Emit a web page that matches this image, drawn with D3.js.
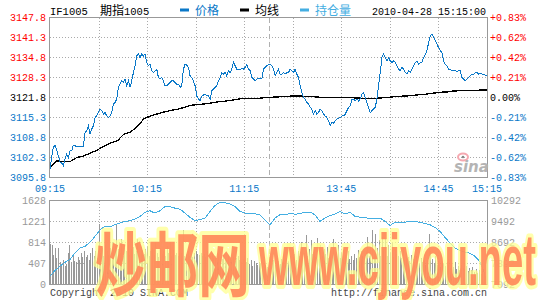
<!DOCTYPE html>
<html>
<head>
<meta charset="utf-8">
<script src="https://cdn.jsdelivr.net/npm/d3@7"></script>
<style>
  body { margin: 0; background: #fff; }
  svg { display: block; }
  text { font-family: "Liberation Mono", "DejaVu Sans Mono", monospace; font-size: 10px; }
</style>
</head>
<body>
<svg id="chart" width="540" height="300"></svg>
<script>
// axis values
var priceTicks = [3147.8, 3141.3, 3134.8, 3128.3, 3121.8, 3115.3, 3108.8, 3102.3, 3095.8];
var pctLabels = ["+0.83%", "+0.62%", "+0.42%", "+0.21%", "0.00%", "-0.21%", "-0.42%", "-0.62%", "-0.83%"];
var timeTicks = [0, 60, 120, 180, 240, 270];   // minutes of trading since 09:15
var timeLabels = ["09:15", "10:15", "11:15", "13:45", "14:45", "15:15"];
var volTicks = [1628, 1221, 814, 407, 0];
var oiTicks = [10292, 9492, 8692, 7892, 7092];
var preClose = 3121.8;

// price, read across the session
var price = [
  3098.5, 3102.3, 3105.6, 3106.3, 3104.8, 3102.8, 3100.9, 3100.5, 3099.6, 3101.8,
  3103.4, 3102.3, 3104.5, 3104.5, 3106.3, 3106.1, 3105.9, 3105.9, 3105.9, 3105.9,
  3105.9, 3110.4, 3111.0, 3112.6, 3109.9, 3111.5, 3112.6, 3115.3, 3115.8, 3116.9,
  3118.0, 3117.5, 3116.4, 3116.9, 3115.8, 3115.3, 3115.8, 3116.9, 3119.6, 3120.2,
  3121.3, 3125.1, 3126.1, 3127.2, 3126.7, 3127.8, 3125.6, 3127.2, 3125.1, 3127.2,
  3129.9, 3132.1, 3135.3, 3135.9, 3134.8, 3135.9, 3135.3, 3135.9, 3133.2, 3132.1,
  3132.6, 3130.5, 3129.9, 3130.5, 3131.0, 3128.3, 3127.8, 3128.3, 3127.2, 3125.6,
  3125.6, 3126.1, 3126.7, 3127.2, 3127.2, 3126.7, 3126.1, 3126.1, 3125.1, 3125.6,
  3131.0, 3132.6, 3132.3, 3131.6, 3128.8, 3128.3, 3127.2, 3125.6, 3122.3, 3121.3,
  3120.7, 3122.3, 3122.6, 3122.9, 3122.3, 3122.3, 3121.3, 3124.0, 3124.5, 3125.1,
  3125.6, 3127.2, 3128.3, 3129.9, 3129.4, 3129.9, 3128.8, 3130.5, 3129.9, 3131.0,
  3133.2, 3132.1, 3131.0, 3131.0, 3131.0, 3131.2, 3131.0, 3131.6, 3132.6, 3131.0,
  3130.5, 3128.3, 3127.8, 3127.2, 3127.8, 3128.0, 3128.0,
  3127.8, 3131.0, 3131.6, 3132.1, 3132.6, 3132.6, 3132.1, 3131.0, 3128.8, 3129.9,
  3131.0, 3129.4, 3129.4, 3129.9, 3129.4, 3129.9, 3129.9, 3131.0, 3130.5, 3129.9,
  3131.0, 3129.4, 3128.3, 3125.6, 3123.4, 3121.8, 3121.3, 3120.2, 3119.6, 3118.6,
  3118.0, 3116.4, 3117.5, 3116.4, 3116.9, 3118.0, 3117.5, 3116.4, 3115.8, 3115.3,
  3114.2, 3112.8, 3113.7, 3113.5, 3114.2, 3114.8, 3115.0, 3115.3, 3115.8, 3115.8,
  3116.4, 3117.5, 3118.6, 3119.1, 3121.3, 3121.3, 3120.7, 3121.3, 3120.7, 3121.3,
  3122.9, 3123.4, 3121.8, 3120.2, 3118.6, 3116.9, 3117.5, 3118.0, 3118.6, 3121.3,
  3125.6, 3129.9, 3134.8, 3135.9, 3134.8, 3133.7, 3134.8, 3133.7, 3133.2, 3133.7,
  3133.2, 3132.1, 3131.0, 3130.5, 3131.6, 3131.0, 3129.9, 3129.4, 3130.5, 3129.9,
  3131.0, 3132.1, 3133.2, 3133.7, 3132.6, 3133.2, 3133.2, 3134.8, 3135.9, 3137.0,
  3139.7, 3141.8, 3142.4, 3141.3, 3140.2, 3139.1, 3138.0, 3137.0, 3136.4, 3133.7,
  3132.6, 3132.1, 3131.0, 3131.0, 3130.5, 3130.5, 3130.5, 3130.1, 3130.5, 3130.5,
  3128.3, 3127.8, 3127.2, 3127.8, 3128.3, 3128.8, 3129.4, 3129.4, 3129.9, 3129.9,
  3129.4, 3129.7, 3129.4, 3129.2, 3129.1, 3128.8
];

// average price line
var avgPrice = [
  3099.1, 3101.2, 3100.9, 3101.0, 3102.3, 3102.8, 3103.7, 3104.7, 3105.9, 3107.0,
  3107.7, 3109.9, 3110.6, 3112.4, 3115.0, 3115.8, 3116.5, 3117.1, 3117.6, 3118.0,
  3118.6, 3119.3, 3119.5, 3119.7, 3120.0, 3120.4, 3120.6, 3120.9, 3121.3, 3121.5,
  3121.5, 3121.5, 3121.8, 3121.9, 3122.0, 3122.1, 3122.3, 3122.3, 3122.2, 3122.1,
  3121.9, 3121.9, 3121.8, 3121.8, 3121.8, 3121.7, 3121.6, 3121.5, 3121.5, 3121.6,
  3121.8, 3122.0, 3122.2, 3122.3, 3122.5, 3122.7, 3122.9, 3123.2, 3123.5, 3123.6,
  3123.9, 3124.0, 3124.1, 3124.1, 3124.2, 3124.2
];

// volume per minute
var volume = [
  790, 760, 570, 700, 510, 700, 430, 380, 480, 350,
  400, 610, 760, 430, 570, 460, 430, 540, 480, 610,
  540, 640, 540, 580, 480, 620, 700, 560, 650, 520,
  1180, 620, 700, 560, 760, 640, 580, 700, 820, 660,
  740, 1170, 680, 620, 880, 560, 700, 640, 760, 580,
  680, 720, 600, 640, 880, 560, 720, 660, 600, 680,
  720, 560, 640, 700, 580, 800, 620, 540, 700, 600,
  640, 560, 740, 620, 820, 560, 660, 580, 620, 560,
  620, 620, 1050, 560, 600, 640, 560, 600, 540, 620,
  640, 600, 580, 620, 560, 600, 540, 640, 580, 560,
  600, 520, 560, 480, 600, 540, 500, 580, 520, 480,
  560, 500, 480, 540, 460, 520, 560, 480, 440, 500,
  560, 440, 520, 400, 480, 360, 460, 420, 380, 440,
  400, 360, 420, 380, 340, 300,
  560, 420, 480, 380, 520, 460, 400, 500, 440, 380,
  520, 460, 560, 480, 540, 600, 480, 640, 560, 820,
  700, 620, 950, 560, 680, 860, 600, 720, 540, 900,
  620, 760, 560, 680, 600, 720, 520, 640, 580, 880,
  600, 560, 760, 520, 620, 480, 580, 540, 640, 500,
  560, 480, 600, 520, 660, 540, 640, 560, 500, 640,
  920, 560, 720, 1050, 600, 980, 700, 860, 560, 920,
  680, 880, 560, 760, 620, 800, 540, 680, 600, 560,
  640, 520, 700, 480, 600, 540, 460, 580, 500, 440,
  560, 480, 400, 520, 440, 460, 380, 480, 970, 640,
  500, 420, 560, 380, 460, 340, 420, 400, 360, 440,
  380, 320, 400, 340, 440, 300, 360, 280, 380, 320,
  300, 360, 260, 320, 280, 340, 240, 300, 220, 280, 200, 260, 180, 160
];

// open interest
var openInt = [
  7408, 7623, 7787, 7939, 8040, 8293, 8483, 8546, 8698, 8926,
  9179, 9305, 9293, 9369, 9432, 9495, 9520, 9584, 9685, 9837,
  9900, 9811, 9900, 10064, 10052, 10001, 9963, 9811, 9647, 9533,
  9558, 9622, 9875, 10102, 10229, 10203, 10165, 10064, 9875, 9811,
  9811, 9786, 9748, 9558, 9369,
  9622, 9748, 9748, 9799, 9773, 9786, 9849, 9849, 9748, 9495,
  9622, 9723, 9773, 9875, 9773, 9849, 9685, 9659, 9634, 9609,
  9609, 9622, 9495, 9343, 9457, 9470, 9470, 9495, 9495, 9457,
  9419, 9369, 9267, 9116, 8888, 8673, 8483, 8382, 8331, 8281,
  8167, 7952, 7471
];

var blue = "#0a78c8", lightBlue = "#44aee2", red = "#ff0000", grey = "#999";
var left = 50, right = 487;
var pTop = 17.5, pBottom = 177.5, vTop = 200.5, vBottom = 284.5;

var svg = d3.select("#chart");

// scales
var x = d3.scaleLinear().domain([0, 270]).range([left, right]);
var xPrice = d3.scaleLinear().domain([0, price.length - 1]).range([left, right]);
var xAvg = d3.scaleLinear().domain([0, avgPrice.length - 1]).range([left, right]);
var xOi = d3.scaleLinear().domain([0, openInt.length - 1]).range([left, right - 2]);
var y = d3.scaleLinear().domain([3095.8, 3147.8]).range([pBottom, pTop]);
var yVol = d3.scaleLinear().domain([0, 1628]).range([vBottom, vTop]);
var yOi = d3.scaleLinear().domain([7092, 10292]).range([vBottom, vTop]);

var gridMinutes = d3.range(30, 270, 30);

function grid(g, yScale, ticks, top, bottom) {
  g.selectAll(".hg").data(ticks.slice(1, -1)).enter().append("line")
    .attr("x1", left).attr("x2", right)
    .attr("y1", function(d) { return yScale(d); }).attr("y2", function(d) { return yScale(d); })
    .attr("stroke", "#aaa").attr("stroke-dasharray", "1,2");
  g.selectAll(".vg").data(gridMinutes.filter(function(m) { return m != 135; })).enter().append("line")
    .attr("x1", function(d) { return Math.round(x(d)) + 0.5; })
    .attr("x2", function(d) { return Math.round(x(d)) + 0.5; })
    .attr("y1", top).attr("y2", bottom)
    .attr("stroke", "#aaa").attr("stroke-dasharray", "1,2");
  // lunch break
  g.append("line")
    .attr("x1", Math.round(x(135)) + 0.5).attr("x2", Math.round(x(135)) + 0.5)
    .attr("y1", top).attr("y2", bottom)
    .attr("stroke", "#b0b0b0").attr("stroke-dasharray", "5,3");
}

// price panel
var gp = svg.append("g").attr("shape-rendering", "crispEdges");
grid(gp, y, priceTicks, pTop, pBottom);

// sina logo
svg.append("ellipse").attr("cx", 463).attr("cy", 157).attr("rx", 5).attr("ry", 3.5)
  .attr("fill", "none").attr("stroke", "#f5a8b0").attr("stroke-width", 2);
svg.append("circle").attr("cx", 463).attr("cy", 157).attr("r", 1.3).attr("fill", "#888");
svg.append("text").attr("x", 454).attr("y", 172).text("sina")
  .style("font-family", "DejaVu Sans").style("font-size", "15px").style("font-weight", "bold")
  .style("font-style", "italic").attr("fill", "#b4b4b4");

gp.append("path").datum(avgPrice)
  .attr("fill", "none").attr("stroke", "#000").attr("stroke-width", 1.3)
  .attr("d", d3.line().x(function(d, i) { return xAvg(i); }).y(function(d) { return y(d); }));

gp.append("path").datum(price)
  .attr("fill", "none").attr("stroke", blue).attr("stroke-width", 1)
  .attr("d", d3.line().x(function(d, i) { return xPrice(i); }).y(function(d) { return y(d); }));

gp.append("rect").attr("x", left - 0.5).attr("y", pTop).attr("width", right - left + 1).attr("height", pBottom - pTop)
  .attr("fill", "none").attr("stroke", grey);

// price labels
svg.selectAll(".pl").data(priceTicks).enter().append("text")
  .attr("x", 46).attr("y", function(d) { return y(d) + 3.5; })
  .attr("text-anchor", "end")
  .attr("fill", function(d) { return d > preClose ? red : (d < preClose ? blue : "#000"); })
  .text(function(d) { return d.toFixed(1); });

svg.selectAll(".pc").data(priceTicks).enter().append("text")
  .attr("x", 490).attr("y", function(d) { return y(d) + 3.5; })
  .attr("fill", function(d) { return d > preClose ? red : (d < preClose ? blue : "#000"); })
  .text(function(d, i) { return pctLabels[i]; });

svg.selectAll(".tl").data(timeTicks).enter().append("text")
  .attr("x", function(d) { return x(d); }).attr("y", 191.5)
  .attr("text-anchor", "middle").attr("fill", blue)
  .text(function(d, i) { return timeLabels[i]; });

// volume panel
var gv = svg.append("g").attr("shape-rendering", "crispEdges");
grid(gv, yVol, volTicks.slice().reverse(), vTop, vBottom);

gv.selectAll(".bar").data(volume).enter().append("rect")
  .attr("x", function(d, i) { return Math.round(x(i)); })
  .attr("y", function(d) { return yVol(d); })
  .attr("width", 1)
  .attr("height", function(d) { return vBottom - yVol(d); })
  .attr("fill", "#999");

gv.append("path").datum(openInt)
  .attr("fill", "none").attr("stroke", lightBlue).attr("stroke-width", 1)
  .attr("d", d3.line().x(function(d, i) { return xOi(i); }).y(function(d) { return yOi(d); }));

gv.append("rect").attr("x", left - 0.5).attr("y", vTop).attr("width", right - left + 1).attr("height", vBottom - vTop)
  .attr("fill", "none").attr("stroke", grey);

svg.selectAll(".vl").data(volTicks).enter().append("text")
  .attr("x", 46).attr("y", function(d) { return yVol(d) + 3.5; })
  .attr("text-anchor", "end").attr("fill", "#999")
  .text(function(d) { return d; });

svg.selectAll(".ol").data(oiTicks).enter().append("text")
  .attr("x", 491).attr("y", function(d) { return yOi(d) + 3.5; })
  .attr("fill", "#999")
  .text(function(d) { return d; });

// header
var cjk = "'Noto Sans CJK SC', sans-serif";
svg.append("text").attr("x", 50).attr("y", 15).style("font-size", "10.5px").text("IF1005");
svg.append("text").attr("x", 100).attr("y", 15).style("font-size", "10.5px")
  .html("<tspan style=\"font-family:" + cjk + ";font-size:12px\">期指</tspan>1005");

var legend = [
  {name: "价格", color: blue, x: 180},
  {name: "均线", color: "#000", x: 240},
  {name: "持仓量", color: lightBlue, x: 300}
];
legend.forEach(function(l) {
  svg.append("rect").attr("x", l.x).attr("y", 8.5).attr("width", 9).attr("height", 3).attr("fill", l.color);
  svg.append("text").attr("x", l.x + 15).attr("y", 15).attr("fill", l.color)
    .style("font-family", cjk).style("font-size", "12px").text(l.name);
});
svg.append("text").attr("x", 372).attr("y", 15).text("2010-04-28 15:15:00");

// footer
svg.append("text").attr("x", 50).attr("y", 296).attr("fill", "#444").text("Copyright 2010 SINA.COM");
svg.append("text").attr("x", 487).attr("y", 296).attr("text-anchor", "end").attr("fill", "#444").text("http://finance.sina.com.cn");

// watermark
var wm = svg.append("g")
  .attr("fill", "#ff8a5a").attr("fill-opacity", 0.92)
  .attr("stroke", "#ffff90").attr("stroke-opacity", 0.75).attr("stroke-width", 8)
  .attr("stroke-linejoin", "round").attr("paint-order", "stroke");
wm.append("text").attr("x", 95).attr("y", 291)
  .attr("textLength", 155).attr("lengthAdjust", "spacingAndGlyphs")
  .style("font-family", cjk).style("font-size", "70px").style("font-weight", "bold")
  .text("炒邮网");
wm.append("text").attr("x", 259).attr("y", 285)
  .attr("textLength", 277).attr("lengthAdjust", "spacingAndGlyphs")
  .style("font-family", "'Liberation Sans', Arial, sans-serif").style("font-size", "72px").style("font-weight", "bold")
  .text("www.cjiyou.net");
</script>
</body>
</html>
